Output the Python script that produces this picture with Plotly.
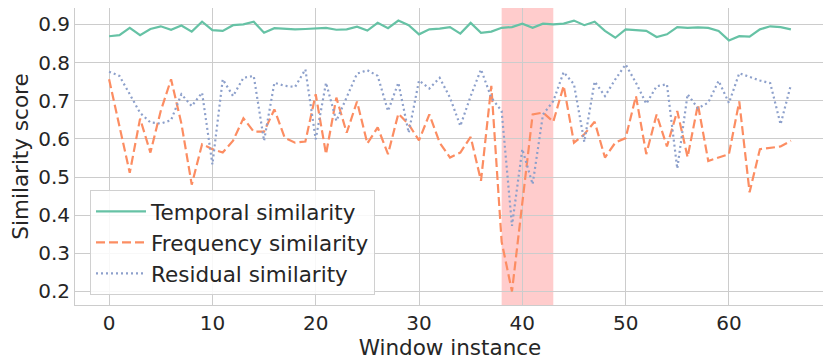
import plotly.graph_objects as go

x = list(range(67))

temporal = [0.869, 0.872, 0.891, 0.872, 0.888, 0.895, 0.886, 0.897, 0.881, 0.907,
            0.885, 0.883, 0.898, 0.900, 0.907, 0.878, 0.890, 0.888, 0.887, 0.888,
            0.889, 0.891, 0.886, 0.887, 0.894, 0.884, 0.904, 0.890, 0.910, 0.898,
            0.874, 0.887, 0.889, 0.893, 0.876, 0.904, 0.878, 0.881, 0.891, 0.893,
            0.902, 0.891, 0.902, 0.900, 0.902, 0.910, 0.898, 0.907, 0.883, 0.865,
            0.887, 0.885, 0.883, 0.867, 0.874, 0.893, 0.891, 0.892, 0.891, 0.883,
            0.858, 0.869, 0.868, 0.887, 0.895, 0.893, 0.887]

frequency = [0.756, 0.630, 0.511, 0.653, 0.564, 0.673, 0.756, 0.640, 0.480, 0.586,
             0.573, 0.564, 0.595, 0.654, 0.619, 0.619, 0.677, 0.603, 0.590, 0.593,
             0.717, 0.560, 0.708, 0.616, 0.698, 0.588, 0.630, 0.560, 0.666, 0.638,
             0.596, 0.664, 0.590, 0.551, 0.564, 0.605, 0.490, 0.739, 0.330, 0.200,
             0.430, 0.664, 0.669, 0.645, 0.739, 0.590, 0.612, 0.645, 0.551, 0.590,
             0.602, 0.712, 0.560, 0.664, 0.580, 0.673, 0.552, 0.690, 0.542, 0.551,
             0.560, 0.698, 0.460, 0.573, 0.577, 0.580, 0.595]

residual = [0.776, 0.765, 0.717, 0.668, 0.643, 0.640, 0.649, 0.717, 0.686, 0.721,
            0.533, 0.756, 0.712, 0.760, 0.765, 0.595, 0.747, 0.739, 0.736, 0.782,
            0.599, 0.747, 0.647, 0.708, 0.771, 0.780, 0.765, 0.673, 0.747, 0.616,
            0.753, 0.732, 0.760, 0.708, 0.634, 0.712, 0.782, 0.708, 0.673, 0.372,
            0.573, 0.481, 0.664, 0.699, 0.775, 0.743, 0.592, 0.750, 0.712, 0.756,
            0.795, 0.747, 0.692, 0.738, 0.743, 0.522, 0.717, 0.680, 0.695, 0.752,
            0.694, 0.772, 0.762, 0.753, 0.746, 0.638, 0.742]

span_start, span_end = 38, 43
x_ticks = [0, 10, 20, 30, 40, 50, 60]
y_ticks = [0.2, 0.3, 0.4, 0.5, 0.6, 0.7, 0.8, 0.9]

FONT = "DejaVu Sans"
TXT = "#262626"

fig = go.Figure()
fig.add_trace(go.Scatter(x=x, y=temporal, mode="lines", name="Temporal similarity",
                         line=dict(color="#66c2a5", width=2.2)))
fig.add_trace(go.Scatter(x=x, y=frequency, mode="lines", name="Frequency similarity",
                         line=dict(color="#fc8d62", width=2.2, dash="9px,4px")))
fig.add_trace(go.Scatter(x=x, y=residual, mode="lines", name="Residual similarity",
                         line=dict(color="#8da0cb", width=2.2, dash="2px,3px")))

fig.add_vrect(x0=span_start, x1=span_end, fillcolor="red", opacity=0.2,
              line_width=0, layer="below")

fig.update_layout(
    width=831, height=362,
    margin=dict(l=67, r=14, t=0, b=65),
    paper_bgcolor="white", plot_bgcolor="white",
    font=dict(family=FONT, color=TXT, size=20),
    showlegend=True,
    legend=dict(x=0.02, y=0.034, xanchor="left", yanchor="bottom",
                bgcolor="rgba(255,255,255,0.85)", bordercolor="#d0d0d0", borderwidth=1,
                font=dict(family=FONT, size=21.5, color=TXT), itemwidth=50,
                tracegroupgap=0),
    xaxis=dict(range=[-3.3, 69.3], tickvals=x_ticks, showgrid=True, gridcolor="#cccccc",
               gridwidth=1, zeroline=False, showline=True, linecolor="#cccccc",
               mirror=True, ticks="", automargin=False, tickfont=dict(size=20, color=TXT),
               title=dict(text="Window instance", font=dict(size=21.5, color=TXT), standoff=2)),
    yaxis=dict(range=[0.1645, 0.943], tickvals=y_ticks, tickformat=".1f", showgrid=True,
               gridcolor="#cccccc", gridwidth=1, zeroline=False, showline=True,
               linecolor="#cccccc", mirror=True, ticks="", automargin=False,
               tickfont=dict(size=20, color=TXT),
               title=dict(text="Similarity score", font=dict(size=21.5, color=TXT), standoff=6)),
)

fig.write_html("out.html")
